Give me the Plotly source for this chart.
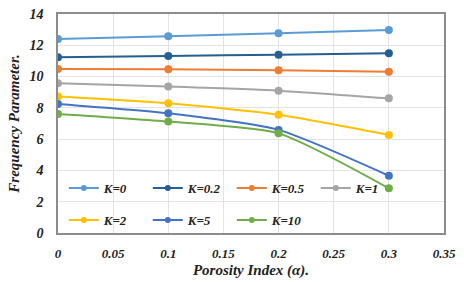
import plotly.graph_objects as go

porosity = [0, 0.1, 0.2, 0.3]
k_labels = ["K=0", "K=0.2", "K=0.5", "K=1", "K=2", "K=5", "K=10"]
k0 = [12.40, 12.58, 12.77, 12.98]
k02 = [11.23, 11.32, 11.40, 11.49]
k05 = [10.49, 10.47, 10.40, 10.31]
k1 = [9.57, 9.36, 9.10, 8.61]
k2 = [8.72, 8.29, 7.56, 6.27]
k5 = [8.25, 7.65, 6.59, 3.66]
k10 = [7.61, 7.12, 6.37, 2.86]
series = [k0, k02, k05, k1, k2, k5, k10]
colors = ["#5B9BD5", "#255E91", "#ED7D31", "#A5A5A5", "#FFC000", "#4472C4", "#70AD47"]

font = "Liberation Serif, Times New Roman, serif"
fig = go.Figure()
for i, (name, ys, c) in enumerate(zip(k_labels, series, colors)):
    fig.add_trace(go.Scatter(x=porosity, y=ys, name=name, mode="lines+markers",
                             line=dict(color=c, width=2, shape="spline", smoothing=0.6),
                             marker=dict(size=8, color=c), showlegend=False))
    # legend-only entry with smaller marker
    fig.add_trace(go.Scatter(x=[None], y=[None], name=name, mode="lines+markers",
                             line=dict(color=c, width=2), marker=dict(size=6, color=c),
                             legend="legend" if i < 4 else "legend2"))

legfont = dict(family=font, size=13, color="#222", style="italic", weight="bold")
common_leg = dict(orientation="h", xanchor="left", yanchor="middle",
                  bgcolor="rgba(0,0,0,0)", entrywidth=39, entrywidthmode="pixels",
                  itemwidth=30, font=legfont)
fig.update_layout(
    width=464, height=282,
    margin=dict(l=58, r=20, t=14, b=49),
    paper_bgcolor="white", plot_bgcolor="white",
    font=dict(family=font, size=13, color="#222"),
    legend=dict(x=0.015, y=(233 - 188) / 219, **common_leg),
    legend2=dict(x=0.015, y=(233 - 220) / 219, **common_leg),
    xaxis=dict(range=[0, 0.35], tickvals=[0, 0.05, 0.1, 0.15, 0.2, 0.25, 0.3, 0.35],
               ticktext=["0", "0.05", "0.1", "0.15", "0.2", "0.25", "0.3", "0.35"],
               showgrid=True, gridcolor="#E3E3E3", gridwidth=1, automargin=False,
               showline=True, linecolor="#8C8C8C", linewidth=1.5, mirror=True, zeroline=False,
               ticks="", ticklabelstandoff=8,
               tickfont=dict(family=font, size=13, color="#222", style="italic", weight="bold"),
               title=dict(text="Porosity Index (α).", standoff=4,
                          font=dict(family=font, size=15, color="#222", style="italic", weight="bold"))),
    yaxis=dict(range=[0, 14], dtick=2,
               showgrid=True, gridcolor="#E3E3E3", gridwidth=1, automargin=False,
               showline=True, linecolor="#8C8C8C", linewidth=1.5, mirror=True, zeroline=False,
               ticks="", ticklabelstandoff=10,
               tickfont=dict(family=font, size=14, color="#222", style="italic", weight="bold"),
               title=dict(text="Frequency Parameter.", standoff=6,
                          font=dict(family=font, size=15, color="#222", style="italic", weight="bold"))),
)
fig.write_html("out.html", config={"displayModeBar": False},
               post_script="document.body.style.margin='0';document.body.style.overflow='hidden';")
